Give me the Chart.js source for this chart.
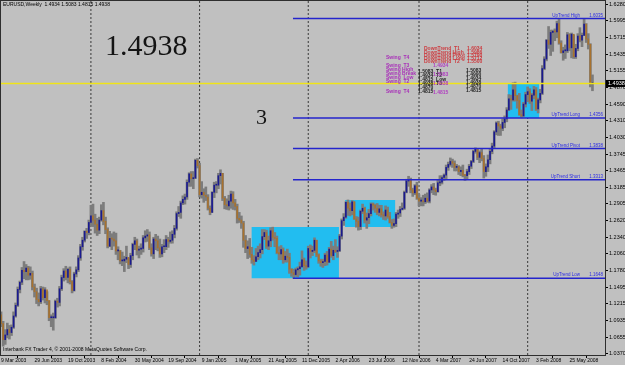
<!DOCTYPE html>
<html>
<head>
<meta charset="utf-8">
<title>EURUSD Weekly</title>
<script src="https://cdn.jsdelivr.net/npm/chart.js@4.4.1/dist/chart.umd.min.js"></script>
<style>
  html, body { margin: 0; padding: 0; background: #c0c0c0; }
  canvas { display: block; }
</style>
</head>
<body>
<canvas id="chart" width="625" height="365"></canvas>
<script>
// --- Data (weekly EURUSD, first bar = week of 9 Mar 2003) ---
const firstOpen = 1.103;
const closes = [
  1.088,1.061,1.069,1.078,1.073,1.082,1.101,1.119,1.146,1.158,
  1.178,1.176,1.182,1.170,1.173,1.150,1.142,1.129,1.125,1.147,
  1.132,1.145,1.127,1.098,1.098,1.098,1.126,1.124,1.147,1.166,
  1.177,1.166,1.180,1.159,1.144,1.172,1.179,1.199,1.218,1.229,
  1.244,1.242,1.259,1.270,1.263,1.256,1.246,1.263,1.279,1.261,
  1.247,1.219,1.232,1.231,1.228,1.211,1.211,1.194,1.194,1.197,
  1.200,1.188,1.203,1.222,1.228,1.212,1.214,1.215,1.233,1.236,
  1.238,1.216,1.206,1.231,1.228,1.216,1.206,1.218,1.218,1.230,
  1.227,1.229,1.239,1.249,1.274,1.276,1.292,1.298,1.302,1.327,
  1.341,1.333,1.334,1.364,1.355,1.306,1.310,1.305,1.302,1.283,
  1.276,1.310,1.322,1.322,1.338,1.342,1.300,1.289,1.287,1.295,
  1.307,1.292,1.286,1.266,1.263,1.258,1.229,1.215,1.218,1.205,
  1.196,1.193,1.201,1.208,1.213,1.235,1.242,1.219,1.228,1.245,
  1.234,1.232,1.208,1.206,1.213,1.196,1.202,1.200,1.180,1.174,
  1.171,1.179,1.181,1.184,1.196,1.186,1.184,1.215,1.210,1.212,
  1.229,1.204,1.194,1.191,1.193,1.204,1.192,1.214,1.203,1.212,
  1.210,1.211,1.236,1.262,1.268,1.293,1.283,1.279,1.294,1.265,
  1.261,1.252,1.278,1.283,1.263,1.267,1.274,1.290,1.288,1.283,
  1.276,1.282,1.272,1.270,1.280,1.269,1.259,1.254,1.257,1.273,
  1.275,1.281,1.283,1.310,1.329,1.331,1.314,1.309,1.321,1.300,
  1.295,1.295,1.294,1.300,1.295,1.314,1.319,1.314,1.311,1.326,
  1.327,1.335,1.339,1.352,1.357,1.362,1.359,1.352,1.353,1.345,
  1.347,1.339,1.338,1.345,1.354,1.362,1.379,1.383,1.369,1.377,
  1.367,1.345,1.353,1.365,1.379,1.388,1.412,1.427,1.422,1.418,
  1.428,1.434,1.449,1.468,1.466,1.483,1.473,1.465,1.441,1.439,
  1.459,1.475,1.480,1.464,1.474,1.483,1.451,1.466,1.477,1.519,
  1.535,1.567,1.560,1.580,1.582,1.581,1.595,1.562,1.546,1.549,
  1.549,1.576,1.554,1.577,1.539,1.553,1.574,1.567,1.575,1.594,
  1.569,1.560,1.4934,1.4938
];
const highs = [
  1.108,1.092,1.078,1.089,1.085,1.086,1.108,1.123,1.150,1.160,
  1.183,1.193,1.188,1.185,1.184,1.177,1.155,1.148,1.140,1.151,
  1.150,1.149,1.142,1.127,1.103,1.106,1.128,1.131,1.151,1.170,
  1.181,1.185,1.182,1.184,1.161,1.175,1.184,1.203,1.222,1.234,
  1.245,1.249,1.263,1.288,1.290,1.273,1.266,1.268,1.289,1.293,
  1.268,1.250,1.244,1.240,1.243,1.241,1.218,1.212,1.209,1.202,
  1.219,1.199,1.207,1.224,1.234,1.231,1.219,1.223,1.237,1.245,
  1.247,1.243,1.223,1.234,1.239,1.236,1.231,1.222,1.230,1.237,
  1.234,1.243,1.245,1.254,1.277,1.286,1.295,1.304,1.307,1.331,
  1.343,1.345,1.345,1.366,1.367,1.359,1.328,1.316,1.319,1.306,
  1.287,1.311,1.327,1.328,1.342,1.348,1.342,1.303,1.299,1.305,
  1.312,1.311,1.298,1.290,1.276,1.270,1.261,1.237,1.228,1.232,
  1.217,1.203,1.215,1.219,1.223,1.247,1.247,1.246,1.236,1.250,
  1.251,1.242,1.236,1.218,1.220,1.216,1.210,1.214,1.207,1.181,
  1.180,1.182,1.184,1.192,1.211,1.199,1.194,1.219,1.221,1.219,
  1.233,1.229,1.206,1.197,1.197,1.207,1.210,1.217,1.227,1.219,
  1.230,1.218,1.239,1.265,1.274,1.294,1.297,1.292,1.296,1.294,
  1.269,1.268,1.280,1.290,1.285,1.275,1.281,1.292,1.292,1.290,
  1.291,1.288,1.288,1.277,1.287,1.285,1.276,1.264,1.265,1.276,
  1.280,1.286,1.292,1.312,1.332,1.337,1.334,1.317,1.323,1.327,
  1.306,1.301,1.305,1.307,1.309,1.316,1.323,1.325,1.317,1.330,
  1.338,1.338,1.341,1.356,1.361,1.368,1.366,1.363,1.357,1.355,
  1.353,1.356,1.340,1.349,1.357,1.364,1.381,1.385,1.384,1.380,
  1.383,1.372,1.358,1.373,1.383,1.393,1.414,1.429,1.430,1.425,
  1.434,1.439,1.453,1.475,1.474,1.495,1.496,1.474,1.477,1.449,
  1.462,1.479,1.488,1.485,1.477,1.489,1.487,1.469,1.484,1.524,
  1.539,1.568,1.590,1.584,1.584,1.586,1.599,1.602,1.566,1.555,
  1.559,1.580,1.578,1.579,1.576,1.560,1.578,1.588,1.579,1.6035,
  1.595,1.578,1.561,1.5083
];
const lows = [
  1.083,1.050,1.053,1.064,1.062,1.068,1.080,1.099,1.117,1.140,
  1.154,1.164,1.162,1.162,1.163,1.145,1.133,1.122,1.118,1.122,
  1.128,1.123,1.120,1.093,1.083,1.077,1.097,1.116,1.118,1.144,
  1.160,1.162,1.157,1.155,1.140,1.143,1.167,1.176,1.195,1.212,
  1.226,1.232,1.238,1.253,1.252,1.241,1.237,1.240,1.261,1.255,
  1.240,1.216,1.218,1.213,1.219,1.205,1.196,1.189,1.186,1.176,
  1.191,1.181,1.183,1.196,1.213,1.204,1.199,1.205,1.209,1.226,
  1.227,1.213,1.202,1.198,1.213,1.211,1.200,1.201,1.208,1.213,
  1.217,1.224,1.224,1.233,1.246,1.269,1.266,1.289,1.290,1.298,
  1.320,1.320,1.316,1.333,1.351,1.302,1.300,1.293,1.296,1.280,
  1.272,1.276,1.301,1.309,1.316,1.324,1.296,1.282,1.281,1.280,
  1.283,1.281,1.280,1.258,1.259,1.249,1.217,1.208,1.198,1.200,
  1.190,1.187,1.193,1.196,1.199,1.206,1.230,1.215,1.213,1.218,
  1.229,1.218,1.206,1.196,1.196,1.190,1.192,1.192,1.173,1.168,
  1.1648,1.168,1.167,1.170,1.184,1.178,1.180,1.183,1.199,1.203,
  1.208,1.201,1.190,1.185,1.183,1.186,1.187,1.191,1.200,1.196,
  1.208,1.200,1.210,1.231,1.254,1.266,1.271,1.270,1.272,1.264,
  1.251,1.246,1.247,1.274,1.258,1.249,1.257,1.270,1.280,1.276,
  1.272,1.270,1.268,1.264,1.263,1.266,1.258,1.249,1.251,1.252,
  1.266,1.269,1.280,1.281,1.309,1.320,1.309,1.303,1.306,1.298,
  1.287,1.287,1.287,1.291,1.293,1.292,1.309,1.306,1.305,1.310,
  1.321,1.324,1.330,1.333,1.347,1.354,1.352,1.346,1.346,1.340,
  1.338,1.336,1.330,1.332,1.340,1.350,1.360,1.376,1.365,1.360,
  1.363,1.334,1.337,1.345,1.358,1.375,1.384,1.407,1.406,1.406,
  1.414,1.419,1.429,1.448,1.450,1.464,1.464,1.452,1.440,1.4356,
  1.438,1.454,1.463,1.460,1.448,1.468,1.448,1.444,1.461,1.475,
  1.517,1.532,1.553,1.541,1.548,1.566,1.571,1.560,1.545,1.533,
  1.536,1.546,1.549,1.537,1.536,1.536,1.549,1.564,1.556,1.575,
  1.563,1.552,1.488,1.4815
];

// x axis date labels, one every 16 weeks starting at bar 0
const dateLabels = ['9 Mar 2003','29 Jun 2003','19 Oct 2003','8 Feb 2004','30 May 2004','19 Sep 2004',
  '9 Jan 2005','1 May 2005','21 Aug 2005','11 Dec 2005','2 Apr 2006','23 Jul 2006',
  '12 Nov 2006','4 Mar 2007','24 Jun 2007','14 Oct 2007','3 Feb 2008','25 May 2008'];
const labelStep = 16;
const priceTicks = [1.0370,1.0655,1.0935,1.1215,1.1495,1.1780,1.2060,1.2340,1.2620,1.2905,1.3185,
  1.3465,1.3745,1.4030,1.4310,1.4590,1.4870,1.5155,1.5435,1.5715,1.5995,1.6280];

// year separators (bar index of first week of each year)
const yearStarts = [43, 95, 147, 200, 252];

// trend levels
const trendNames = ['UpTrend High', 'UpTrend Long', 'UpTrend Pivot', 'UpTrend Short', 'UpTrend Low'];
const trendLevels = [1.6035, 1.4356, 1.3838, 1.3313, 1.1648];
const trendStart = 139.7;

// range boxes
const boxFrom = [119.8, 164.6, 242.4];
const boxTo = [161.7, 188.7, 257.6];
const boxLow = [1.1648, 1.2513, 1.4356];
const boxHigh = [1.2513, 1.2969, 1.4938];

// --- Styles / scale range ---
const xMin = -0.5, xMax = 289;
const yMin = 1.0351, yMax = 1.6348;
const upColor = '#1a1a90';
const downColor = '#a8722e';
const small = '"Liberation Sans", Arial, sans-serif';

const opens = closes.map((c, i) => i === 0 ? firstOpen : closes[i - 1]);
const last = closes.length - 1;

const datasets = [];

trendLevels.forEach(lv => {
  datasets.push({ type: 'line', data: [{ x: trendStart, y: lv }, { x: xMax, y: lv }],
    borderColor: '#2424cc', borderWidth: 1.5, pointRadius: 0, order: 0 });
});
datasets.push({ type: 'line', data: [{ x: xMin, y: closes[last] }, { x: xMax, y: closes[last] }],
  borderColor: '#f0e418', borderWidth: 1.6, pointRadius: 0, order: 0 });

datasets.push({ type: 'bar', grouped: false, order: 1, barThickness: 1, minBarLength: 1,
  data: closes.map((c, i) => ({ x: i, y: [opens[i], c] })),
  backgroundColor: closes.map((c, i) => c >= opens[i] ? upColor : downColor) });
datasets.push({ type: 'bar', grouped: false, order: 2, barThickness: 2,
  data: closes.map((c, i) => ({ x: i, y: [lows[i], highs[i]] })),
  backgroundColor: '#7c7c7c' });

boxFrom.forEach((b, k) => {
  datasets.push({ type: 'line', order: 3, data: [{ x: b, y: boxHigh[k] }, { x: boxTo[k], y: boxHigh[k] }],
    borderWidth: 0, pointRadius: 0, fill: { value: boxLow[k] }, backgroundColor: '#22bdf0' });
});
yearStarts.forEach(ys => {
  datasets.push({ type: 'line', order: 4, data: [{ x: ys, y: yMin }, { x: ys, y: yMax }],
    borderColor: '#3a3a3a', borderWidth: 1, borderDash: [2, 2], pointRadius: 0 });
});

// --- Texts drawn on top ---
const notes = {
  id: 'notes',
  afterDraw(chart) {
    const { ctx, chartArea: a, scales: { y } } = chart;
    ctx.save();
    // frame
    ctx.strokeStyle = '#2e2e2e';
    ctx.lineWidth = 1;
    ctx.strokeRect(a.left + 0.5, a.top + 0.5, a.right - a.left, a.bottom - a.top);

    // trend captions
    ctx.font = '4.5px ' + small;
    ctx.fillStyle = '#2a2ae6';
    ctx.textBaseline = 'bottom';
    ctx.textAlign = 'right';
    trendNames.forEach((n, k) => {
      const py = y.getPixelForValue(trendLevels[k]) - 1;
      ctx.fillText(n, a.right - 25, py);
      ctx.fillText(trendLevels[k].toFixed(4), a.right - 2, py);
    });

    // swing / downtrend labels cluster
    ctx.textAlign = 'left';
    ctx.textBaseline = 'middle';
    ctx.font = 'bold 5px ' + small;
    ctx.fillStyle = '#a830b8';
    [['Swing  T4', 58], ['Swing  T3', 66], ['Swing High', 70], ['Swing Break', 74],
     ['Swing  Low', 78], ['Swing  T2', 82], ['Swing  T4', 92]].forEach(t => ctx.fillText(t[0], 386, t[1]));
    ctx.fillStyle = '#cc3c40';
    [['DownTrend  T1', 49], ['DownTrend High', 53], ['DownTrend Pivot', 56], ['DownTrend Long', 59], ['DownTrend  T2', 62]]
      .forEach(t => ctx.fillText(t[0], 424, t[1]));
    [['1.6034', 49], ['1.5986', 53], ['1.5790', 56], ['1.5712', 59], ['1.5500', 62]]
      .forEach(t => ctx.fillText(t[0], 467, t[1]));
    ctx.fillStyle = '#1e1e1e';
    [['1.5083  T1', 72], ['1.4934  T2', 76], ['1.4815  Low', 80], ['1.4938  T3', 84], ['1.4870', 88], ['1.4815', 92]]
      .forEach(t => ctx.fillText(t[0], 418, t[1]));
    [['1.5083', 71], ['1.4990', 75], ['1.4934', 79], ['1.4938', 83], ['1.4870', 87], ['1.4815', 91]]
      .forEach(t => ctx.fillText(t[0], 466, t[1]));
    ctx.fillStyle = '#b040c0';
    [['1.4934', 66], ['1.5083', 75], ['1.4938', 84], ['1.4815', 93]].forEach(t => ctx.fillText(t[0], 433, t[1]));

    // big serif numbers
    ctx.fillStyle = '#141414';
    ctx.textBaseline = 'alphabetic';
    ctx.font = '30px "Liberation Serif", "Times New Roman", serif';
    ctx.fillText(closes[last].toFixed(4), 105, 55);
    ctx.font = '22px "Liberation Serif", "Times New Roman", serif';
    ctx.fillText('3', 256, 124);

    // header and footer
    ctx.font = '5px ' + small;
    ctx.fillStyle = '#000';
    ctx.textBaseline = 'middle';
    ctx.fillText('EURUSD,Weekly  ' + [opens[last], highs[last], lows[last], closes[last]].map(v => v.toFixed(4)).join(' '), 3, 5);
    ctx.fillText('Interbank FX Trader 4, \u00a9 2001-2008 MetaQuotes Software Corp.', 3, 350);

    // current price box
    const py = y.getPixelForValue(closes[last]);
    ctx.fillStyle = '#000';
    ctx.fillRect(a.right + 1, py - 3.5, 19, 7);
    ctx.fillStyle = '#fff';
    ctx.font = '5.5px ' + small;
    ctx.fillText(closes[last].toFixed(4), a.right + 3, py);
    ctx.restore();
  }
};

const ctx = document.getElementById('chart').getContext('2d');
const myChart = new Chart(ctx, {
  type: 'bar',
  data: { datasets },
  plugins: [notes],
  options: {
    responsive: false,
    animation: false,
    devicePixelRatio: 1,
    events: [],
    layout: { padding: 0 },
    plugins: { legend: { display: false }, tooltip: { enabled: false } },
    scales: {
      x: {
        type: 'linear', position: 'bottom', min: xMin, max: xMax, offset: false,
        grid: { drawOnChartArea: false, color: '#000', tickLength: 3 },
        border: { color: '#2e2e2e' },
        afterBuildTicks: s => { s.ticks = dateLabels.map((t, k) => ({ value: k * labelStep })); },
        ticks: {
          autoSkip: false, maxRotation: 0, align: 'start', padding: 0, color: '#000',
          font: { size: 5, family: small },
          callback: v => dateLabels[Math.round(v / labelStep)]
        },
        afterFit: s => { s.height = 10; s.paddingLeft = 0; s.paddingRight = 0; }
      },
      y: {
        position: 'right', min: yMin, max: yMax,
        grid: { drawOnChartArea: false, color: '#000', tickLength: 3 },
        border: { color: '#2e2e2e' },
        afterBuildTicks: s => { s.ticks = priceTicks.map(v => ({ value: v })); },
        ticks: { padding: 1, color: '#000', font: { size: 5.5, family: small }, callback: v => v.toFixed(4) },
        afterFit: s => { s.width = 20; s.paddingTop = 0; s.paddingBottom = 0; }
      }
    }
  }
});
</script>
</body>
</html>
